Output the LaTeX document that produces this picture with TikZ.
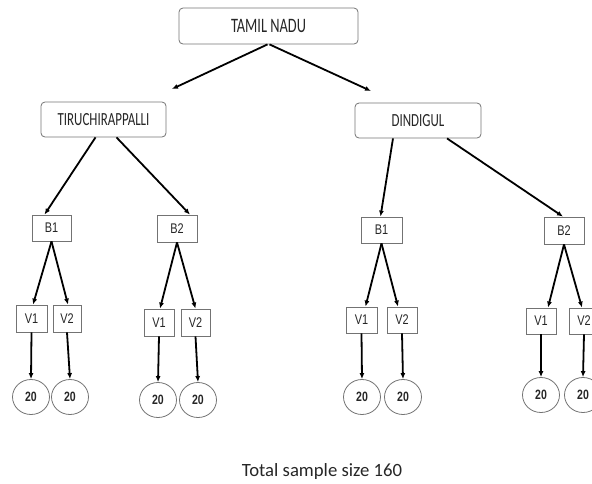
\documentclass[tikz,border=0pt]{standalone}
\usepackage{fontspec}
\setmainfont{Carlito}
\newfontfamily\distfont[FakeStretch=0.7]{Carlito}
\newfontfamily\unitfont[FakeStretch=0.78]{Liberation Sans}
\usetikzlibrary{arrows.meta, shapes.geometric}

\begin{document}
\begin{tikzpicture}[%
    x=1pt, y=-1pt,
    every node/.style={inner sep=0pt, text=black!85},
    region/.style={draw=black!55, line width=0.8pt, rounded corners=4pt,
        font=\distfont\fontsize{18.5}{20}\selectfont},
    unit/.style={draw=black!55, line width=0.8pt,
        font=\unitfont\fontsize{14}{16}\selectfont},
    count/.style={ellipse, draw=black!55, line width=0.8pt,
        minimum width=37pt, minimum height=35pt,
        font=\unitfont\bfseries\fontsize{13.5}{15}\selectfont},
    arr/.style={-{Latex[length=6pt,width=5pt]}, line width=1.8pt},
]

\useasboundingbox (0,0) rectangle (592,483);

% state and districts
\node[region, minimum width=179pt, minimum height=36pt,
      font=\distfont\fontsize{20.5}{22}\selectfont] (tn) at (268.5,26) {TAMIL NADU};
\node[region, minimum width=125pt, minimum height=35pt] (tiru) at (103.5,119.5) {TIRUCHIRAPPALLI};
\node[region, minimum width=126pt, minimum height=35pt] (dind) at (418,120.5) {DINDIGUL};

\coordinate (tiruend) at (172,89);
\coordinate (dindend) at (371,91);
\draw[arr] ([xshift=-1pt]tn.south) -- (tiruend);
\draw[arr] ([xshift=1pt]tn.south) -- (dindend);

% blocks
\node[unit, minimum width=39pt, minimum height=26pt] (b1L) at (51.5,228) {B1};
\node[unit, minimum width=40pt, minimum height=27pt] (b2L) at (177,228.5) {B2};
\node[unit, minimum width=41pt, minimum height=26pt] (b1R) at (381.5,230) {B1};
\node[unit, minimum width=40pt, minimum height=27pt] (b2R) at (564,230.5) {B2};

\draw[arr] ([xshift=-8pt]tiru.south) -- ([xshift=-7pt]b1L.north);
\draw[arr] ([xshift=13pt]tiru.south) -- ([xshift=13pt]b2L.north);
\draw[arr] ([xshift=-25pt]dind.south) -- ([xshift=-1pt]b1R.north);
\draw[arr] ([xshift=29pt]dind.south) -- ([xshift=-1pt]b2R.north);

% villages
\node[unit, minimum width=31pt, minimum height=27pt] (v1a) at (31.5,318.5) {V1};
\node[unit, minimum width=28pt, minimum height=27pt] (v2a) at (67,318.5) {V2};
\node[unit, minimum width=30pt, minimum height=27pt] (v1b) at (159,322.5) {V1};
\node[unit, minimum width=29pt, minimum height=27pt] (v2b) at (195.5,322.5) {V2};
\node[unit, minimum width=31pt, minimum height=26pt] (v1c) at (361.5,320) {V1};
\node[unit, minimum width=30pt, minimum height=26pt] (v2c) at (402,320) {V2};
\node[unit, minimum width=30pt, minimum height=26pt] (v1d) at (541,321) {V1};
\node[unit, minimum width=30pt, minimum height=26pt] (v2d) at (584,321) {V2};

\draw[arr] (b1L.south) -- ([xshift=1.5pt]v1a.north);
\draw[arr] (b1L.south) -- ([xshift=1pt]v2a.north);
\draw[arr] (b2L.south) -- ([xshift=1pt]v1b.north);
\draw[arr] (b2L.south) -- (v2b.north);
\draw[arr] (b1R.south) -- ([xshift=4pt]v1c.north);
\draw[arr] (b1R.south) -- ([xshift=-4pt]v2c.north);
\draw[arr] (b2R.south) -- ([xshift=7pt]v1d.north);
\draw[arr] (b2R.south) -- ([xshift=-2pt]v2d.north);

% sample sizes
\node[count] (c1a) at (31,397) {20};
\node[count] (c2a) at (70,397) {20};
\node[count] (c1b) at (158,400) {20};
\node[count] (c2b) at (198,400) {20};
\node[count] (c1c) at (362,397) {20};
\node[count] (c2c) at (403,397) {20};
\node[count] (c1d) at (541,395) {20};
\node[count] (c2d) at (583,395) {20};

\foreach \v/\c in {v1a/c1a, v2a/c2a, v1b/c1b, v2b/c2b, v1c/c1c, v2c/c2c, v1d/c1d, v2d/c2d}{
    \draw[arr] (\v.south) -- (\c.north);
}

\node[font=\fontsize{18.7}{22}\selectfont] (total) at (322,472) {Total sample size 160};

\end{tikzpicture}
\end{document}
